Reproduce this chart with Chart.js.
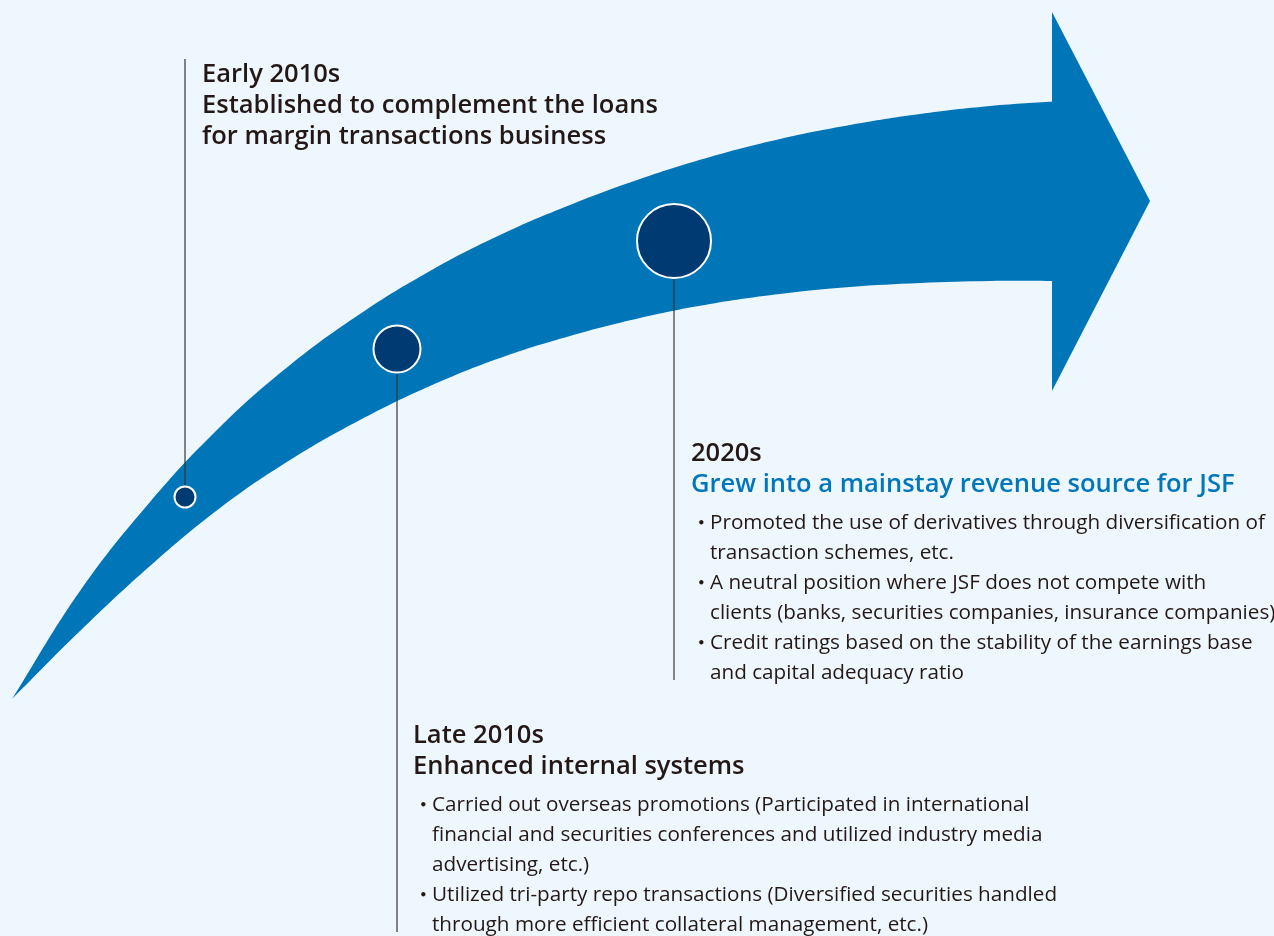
<!DOCTYPE html>
<html>
<head>
<meta charset="utf-8">
<script src="https://cdn.jsdelivr.net/npm/chart.js@4.4.1/dist/chart.umd.min.js"></script>
<style>
  html, body { margin: 0; padding: 0; background: #EFF7FE; }
  #wrap { position: relative; width: 1274px; height: 936px; overflow: hidden; background: #EFF7FE; }
  #c { position: absolute; left: 0; top: 0; }
  .block { position: absolute; color: #231815; font-family: "Open Sans", "Noto Sans", sans-serif; }
  .head { font-weight: 600; font-size: 22px; height: 31px; line-height: 31px; white-space: nowrap; }
  .head.blue { color: #0076BD; }
  .item { font-size: 19px; height: 30px; line-height: 30px; white-space: nowrap; position: relative; padding-left: 19px; }
  .dot { position: absolute; left: 0; top: 0; width: 19px; text-align: center; font-family: "Noto Sans CJK JP", sans-serif; }
  .gap { height: 8px; }
</style>
</head>
<body>
<div id="wrap">
  <canvas id="c" width="1274" height="936"></canvas>
</div>
<script>
// ---------- data ----------
const periods = ['Early 2010s', 'Late 2010s', '2020s'];
const headlines = [
  ['Established to complement the loans', 'for margin transactions business'],
  ['Enhanced internal systems'],
  ['Grew into a mainstay revenue source for JSF']
];
const bulletsLate = [
  ['Carried out overseas promotions (Participated in international', 'financial and securities conferences and utilized industry media', 'advertising, etc.)'],
  ['Utilized tri-party repo transactions (Diversified securities handled', 'through more efficient collateral management, etc.)']
];
const bullets2020 = [
  ['Promoted the use of derivatives through diversification of', 'transaction schemes, etc.'],
  ['A neutral position where JSF does not compete with', 'clients (banks, securities companies, insurance companies)'],
  ['Credit ratings based on the stability of the earnings base', 'and capital adequacy ratio']
];
// arrow outline (x, y in canvas units)
const arrowUpper = [[12,699],[80,591],[150,502],[220,427],[290,365],[360,314],[430,271],[500,235],[570,205],[640,179],[710,157],[780,139],[850,125],[920,114],[990,106],[1060,101]];
const arrowLower = [[12,699],[80,631],[150,566],[220,508],[290,460],[360,420],[430,386],[500,358],[570,336],[640,318],[710,304],[780,294],[850,287],[920,283],[990,281],[1060,281]];
const headUpper = [[1052,12],[1150,201]];
const headLower = [[1052,391],[1150,201]];
// milestone circles
const milestoneX = [185, 397, 674];
const milestoneY = [497, 349, 241];
const milestoneR = [10.5, 23.5, 37];
// leader lines
const leaderTop = [59, 372, 279];
const leaderBottom = [486, 932, 680];

// ---------- colours ----------
const ARROW = '#0075B8';
const CIRCLE = '#003A73';
const LEADER = '#383434';

const toPts = a => a.map(p => ({x: p[0], y: p[1]}));

const datasets = [];
datasets.push({
  type: 'bubble',
  data: milestoneX.map((x, i) => ({x, y: milestoneY[i], r: milestoneR[i]})),
  backgroundColor: CIRCLE, borderColor: '#FFFFFF', borderWidth: 2,
  hoverRadius: 0, order: 0, clip: false
});
milestoneX.forEach((x, i) => {
  datasets.push({
    type: 'line',
    data: [{x, y: leaderTop[i]}, {x, y: leaderBottom[i]}],
    borderColor: LEADER, borderWidth: 1.2, pointRadius: 0, fill: false, order: 1, clip: false
  });
});
const bodyIdx = datasets.length;
datasets.push({
  type: 'line', data: toPts(arrowUpper), borderColor: 'rgba(0,0,0,0)', borderWidth: 1,
  backgroundColor: ARROW, pointRadius: 0, tension: 0.4,
  fill: bodyIdx + 1, order: 2, clip: false
});
datasets.push({
  type: 'line', data: toPts(arrowLower), borderColor: 'rgba(0,0,0,0)', borderWidth: 1,
  backgroundColor: ARROW, pointRadius: 0, tension: 0.4,
  fill: false, order: 3, clip: false
});
const headIdx = datasets.length;
datasets.push({
  type: 'line', data: toPts(headUpper), borderColor: 'rgba(0,0,0,0)', borderWidth: 1,
  backgroundColor: ARROW, pointRadius: 0, tension: 0, fill: headIdx + 1, order: 2, clip: false
});
datasets.push({
  type: 'line', data: toPts(headLower), borderColor: 'rgba(0,0,0,0)', borderWidth: 1,
  backgroundColor: ARROW, pointRadius: 0, tension: 0, fill: false, order: 3, clip: false
});

new Chart(document.getElementById('c'), {
  type: 'scatter',
  data: { datasets },
  options: {
    responsive: false, animation: false, devicePixelRatio: 1,
    layout: { padding: 0, autoPadding: false },
    events: [],
    scales: {
      x: { type: 'linear', min: 0, max: 1274, display: false },
      y: { type: 'linear', min: 0, max: 936, reverse: true, display: false }
    },
    plugins: { legend: { display: false }, tooltip: { enabled: false } }
  }
});

// ---------- text blocks ----------
const wrap = document.getElementById('wrap');
function addBlock(left, top, period, heads, blueHead, bullets) {
  const b = document.createElement('div');
  b.className = 'block';
  b.style.left = left + 'px';
  b.style.top = top + 'px';
  const p = document.createElement('div');
  p.className = 'head'; p.textContent = period; b.appendChild(p);
  heads.forEach(h => {
    const d = document.createElement('div');
    d.className = 'head' + (blueHead ? ' blue' : '');
    d.textContent = h; b.appendChild(d);
  });
  if (bullets && bullets.length) {
    const g = document.createElement('div'); g.className = 'gap'; b.appendChild(g);
    bullets.forEach(item => {
      item.forEach((ln, k) => {
        const d = document.createElement('div');
        d.className = 'item';
        if (k === 0) {
          const s = document.createElement('span');
          s.className = 'dot'; s.textContent = '・';
          d.appendChild(s);
        }
        const t = document.createElement('span');
        t.textContent = ln;
        d.appendChild(t);
        b.appendChild(d);
      });
    });
  }
  wrap.appendChild(b);
  return b;
}
addBlock(202, 57, periods[0], headlines[0], false, null);
addBlock(413, 718, periods[1], headlines[1], false, bulletsLate);
addBlock(691, 436, periods[2], headlines[2], true, bullets2020);

// fit type sizes to the widths seen in the reference
function measure(text, weight, size) {
  const s = document.createElement('span');
  s.style.cssText = 'position:absolute;visibility:hidden;white-space:nowrap;font-family:"Open Sans","Noto Sans",sans-serif;font-weight:' + weight + ';font-size:' + size + 'px';
  s.textContent = text;
  document.body.appendChild(s);
  const w = s.getBoundingClientRect().width;
  s.remove();
  return w;
}
const headSize = 22 * (448 + 552) / (measure(headlines[0][0], 600, 22) + measure(headlines[2][0], 600, 22));
const bodySize = 19 * 555 / measure(bullets2020[0][0], 400, 19);
document.querySelectorAll('.head').forEach(e => e.style.fontSize = headSize.toFixed(2) + 'px');
document.querySelectorAll('.item').forEach(e => e.style.fontSize = bodySize.toFixed(2) + 'px');
</script>
</body>
</html>
